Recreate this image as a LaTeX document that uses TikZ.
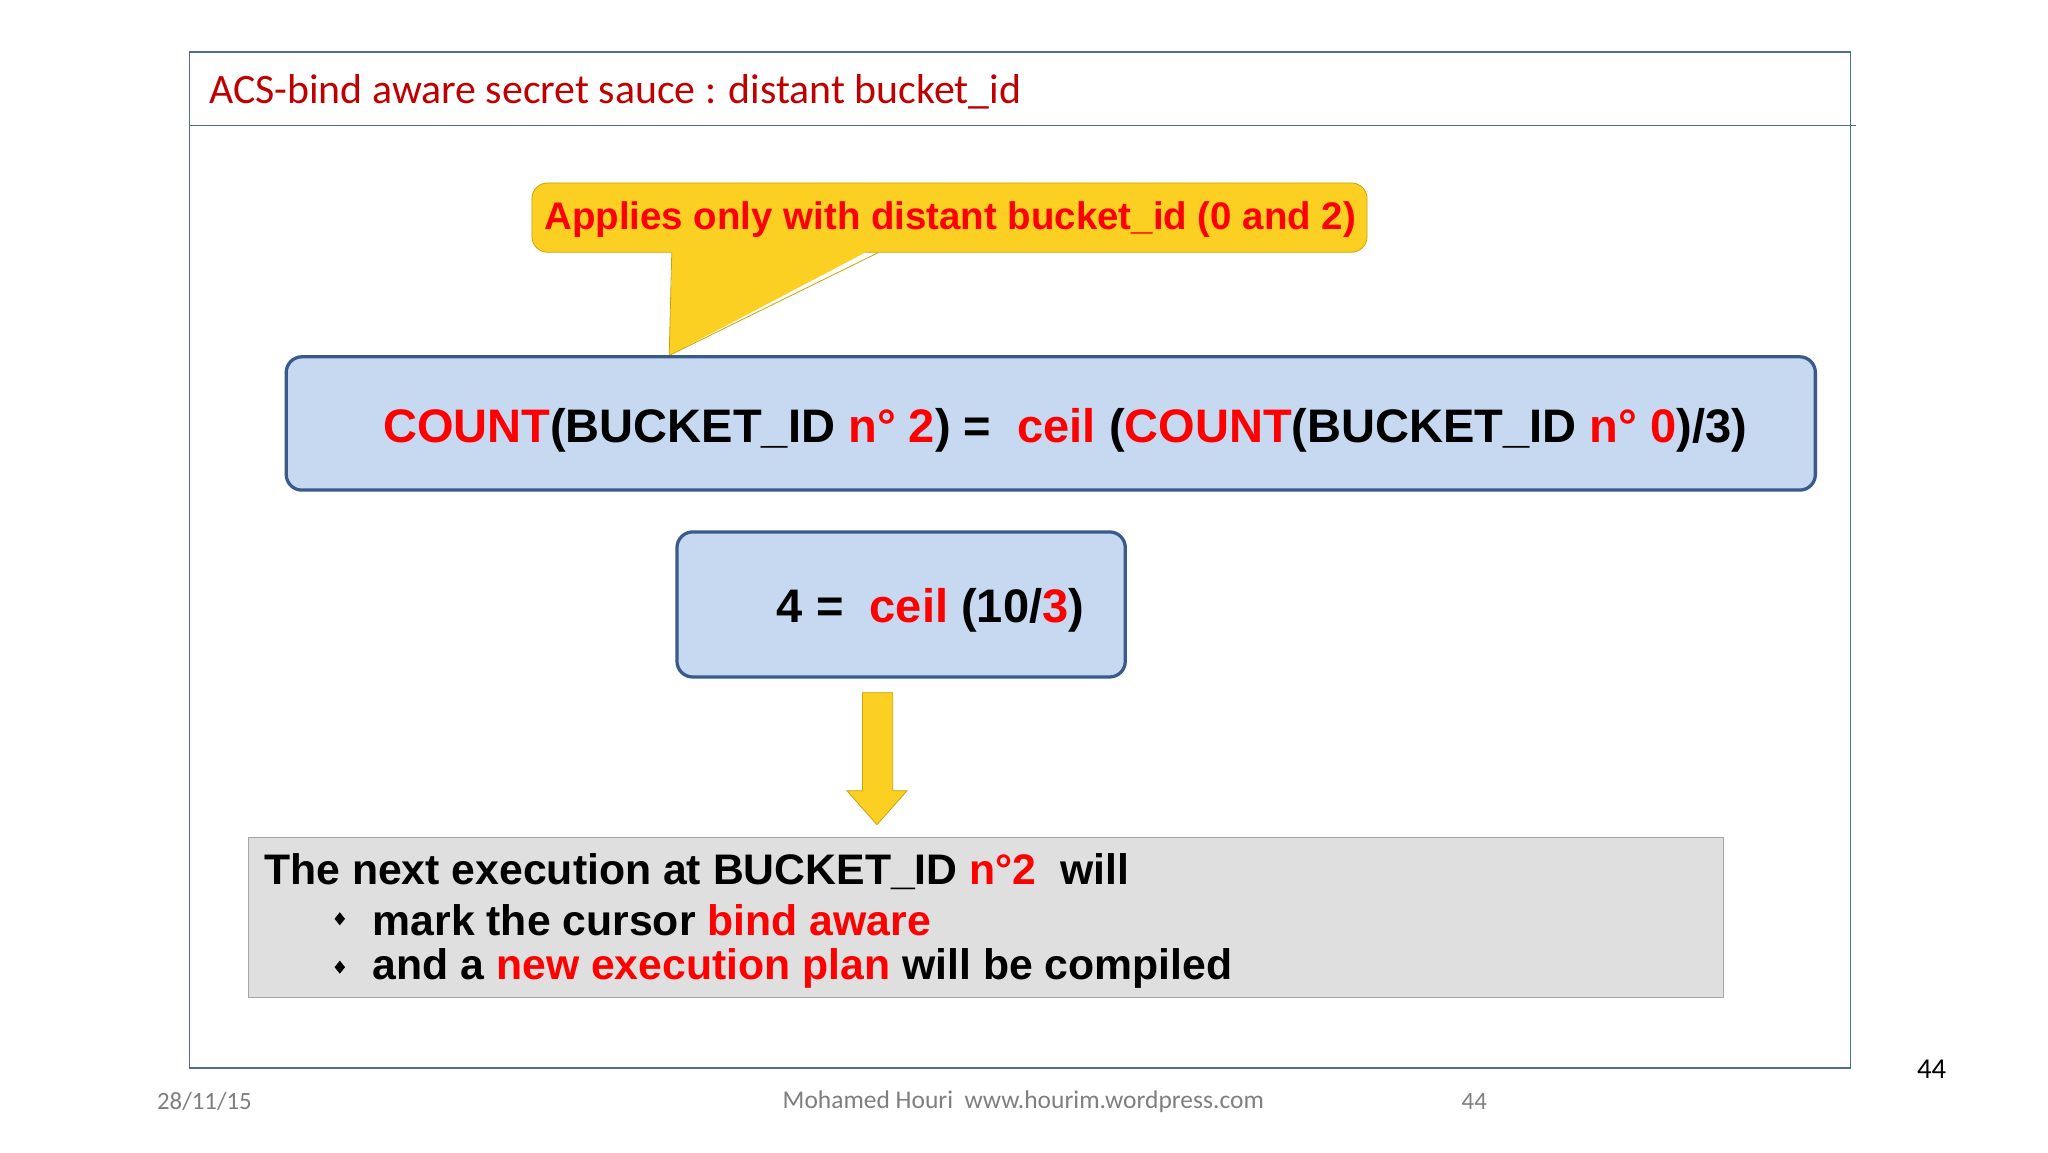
\documentclass[tikz,border=0pt]{standalone}
\usepackage{fontspec}
\setmainfont{Liberation Sans}
\newfontfamily\carl{Carlito}
\definecolor{rd}{HTML}{FF0000}
\definecolor{dred}{HTML}{C00000}
\definecolor{frame}{HTML}{4F6B9A}
\definecolor{bfill}{HTML}{C6D9F1}
\definecolor{bdraw}{HTML}{3A5A8C}
\definecolor{yel}{HTML}{FCD022}
\definecolor{ydraw}{HTML}{C9A400}
\definecolor{gry}{HTML}{7F7F7F}
\newcommand{\fs}[1]{\fontsize{#1}{#1}\selectfont}
\begin{document}
\begin{tikzpicture}[x=1pt,y=-1pt,
  bbox/.style={draw=bdraw,line width=2.5pt,fill=bfill,rounded corners=12pt},
  txt/.style={inner sep=0pt,anchor=west}]
\useasboundingbox[fill=white] (0,0) rectangle (1567,882);
\draw[frame,line width=1.2pt] (145,40) rectangle (1416,817);
\draw[frame,line width=1.2pt] (145,96) -- (1420,96);
\node[txt,text=dred] (title) at (160,70) {\carl\fs{32}ACS-bind aware secret sauce : distant bucket\_id};
% callout
\draw[ydraw,fill=yel,line width=0.6pt,rounded corners=12pt] (407,140) rectangle (1046,193);
\fill[yel] (514.5,188) -- (512,272) -- (672,188) -- cycle;
\draw[ydraw,line width=0.6pt] (514,193.3) -- (512,272) -- (672,193.3);
\node[inner sep=0pt,text=rd] (call) at (727,168) {\bfseries\fs{29.4}Applies only with distant bucket\_id (0 and 2)};
% box1
\node[bbox,minimum width=1170pt,minimum height=102pt] (b1) at (804,324) {};
\node[inner sep=0pt] (t1) at (815,329) {\bfseries\fs{36}\textcolor{rd}{COUNT}(BUCKET\_ID \textcolor{rd}{n° 2}) =\ \ \textcolor{rd}{ceil} (\textcolor{rd}{COUNT}(BUCKET\_ID \textcolor{rd}{n° 0})/3)};
% box2
\node[bbox,minimum width=343pt,minimum height=111pt] (b2) at (689.5,462.5) {};
\node[inner sep=0pt] (t2) at (712,467) {\bfseries\fs{36}4 =\ \ \textcolor{rd}{ceil} (10/\textcolor{rd}{3})};
% arrow
\draw[ydraw,fill=yel,line width=0.6pt] (660,530) -- (683,530) -- (683,605) -- (694,605) -- (671,631) -- (648,605) -- (660,605) -- cycle;
\coordinate (tip) at (671,631);
% grey box
\node[draw=gry!70,fill=gray!25,line width=0.8pt,minimum width=1129pt,minimum height=122pt] (g) at (754.5,702) {};
\node[txt] (l1) at (202,667) {\bfseries\fs{32.7}The next execution at BUCKET\_ID \textcolor{rd}{n°2}\ \ will};
\node[txt] (l2) at (285,704) {\bfseries\fs{32.7}mark the cursor \textcolor{rd}{bind aware}};
\node[txt] (l3) at (285,741) {\bfseries\fs{32.7}and a \textcolor{rd}{new execution plan} will be compiled};
\fill (260,698) -- (264,703) -- (260,708) -- (256,703) -- cycle;
\fill (260,735) -- (264,740) -- (260,745) -- (256,740) -- cycle;
% footer
\node[txt,text=gry] (d) at (120,843) {\carl\fs{19}28/11/15};
\node[inner sep=0pt,text=gry] (a) at (783,843) {\carl\fs{19.5}Mohamed Houri\ \ www.hourim.wordpress.com};
\node[inner sep=0pt,text=gry] (p) at (1128,843) {\carl\fs{19}44};
\node[inner sep=0pt] (p2) at (1478,818) {\carl\fs{22}44};
\end{tikzpicture}
\end{document}
